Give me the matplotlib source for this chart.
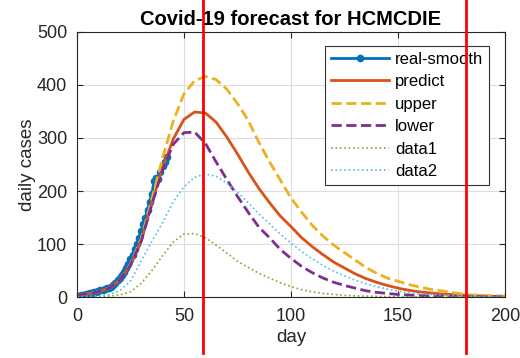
import numpy as np
import matplotlib
matplotlib.use("Agg")
import matplotlib.pyplot as plt

plt.rcParams['font.family'] = ['Liberation Sans', 'DejaVu Sans']

# observed (smoothed) daily cases, days 0..42
real_days = np.arange(0, 43)
real_smooth = [3, 3, 4, 4, 5, 6, 7, 8, 9, 10, 11, 13, 14, 15, 17, 18, 20, 23, 27, 32,
               37, 42, 48, 55, 63, 72, 80, 90, 100, 112, 125, 138, 150, 165, 180, 195,
               218, 225, 222, 236, 248, 255, 264]

# model curves, read every 5 days
days = np.arange(0, 201, 5)
predict = [4, 6, 10, 17, 32, 60, 107, 178, 243, 298, 335, 349, 347, 330, 302, 270, 236,
           205, 178, 153, 133, 112, 95, 80, 66, 55, 44, 35, 28, 22, 17, 13, 10, 8, 6, 5,
           4, 3, 2, 1.5, 1]
upper = [4, 6, 10, 17, 32, 62, 110, 185, 262, 332, 383, 408, 416, 410, 392, 365, 333,
         292, 255, 221, 187, 160, 135, 115, 98, 84, 70, 56, 45, 36, 30, 24, 19, 15, 12, 9,
         6, 4, 3, 2.5, 2]
lower = [4, 6, 10, 17, 32, 60, 105, 175, 240, 288, 310, 311, 290, 255, 222, 190, 160,
         132, 112, 90, 73, 58, 46, 36, 28, 22, 17, 12, 9, 7, 5, 4, 3, 2.5, 2, 1.5, 1, 1,
         0.5, 0.5, 0.5]
data1 = [0, 0.5, 1, 2, 4, 10, 26, 50, 78, 104, 119, 120, 112, 98, 83, 68, 56, 45, 36, 27,
         20, 14, 10, 7, 5, 3.5, 2.5, 2, 1.5, 1, 1, 0.5, 0.5, 0.5, 0, 0, 0, 0, 0, 0, 0]
data2 = [1, 1.5, 2.5, 5, 12, 30, 68, 105, 140, 180, 208, 226, 232, 228, 215, 198, 178,
         157, 138, 119, 102, 86, 72, 60, 49, 40, 32, 25, 20, 15, 11, 8, 6, 5, 4, 3, 2, 1.5,
         1, 0.5, 0.5]

# red marker lines drawn over the figure
marker_days = [59, 182]

fig = plt.figure(figsize=(5.2, 3.58), dpi=100)
ax = fig.add_axes([0.148, 0.170, 0.823, 0.741])

ax.plot(real_days, real_smooth, '.-', color='#0072BD', lw=2, ms=9, label='real-smooth')
ax.plot(days, predict, '-', color='#D95319', lw=2, label='predict')
ax.plot(days, upper, '--', color='#EDB120', lw=2, label='upper')
ax.plot(days, lower, '--', color='#7E2F8E', lw=2, label='lower')
ax.plot(days, data1, ':', color='#77AC30', lw=1.2, label='data1')
ax.plot(days, data2, ':', color='#4DBEEE', lw=1.2, label='data2')

ax.set_xlim(0, 200)
ax.set_ylim(0, 500)
ax.set_xticks([0, 50, 100, 150, 200])
ax.set_yticks([0, 100, 200, 300, 400, 500])
ax.grid(True, color='#dddddd', lw=0.8)
ax.set_axisbelow(True)
ax.tick_params(direction='in', top=True, right=True, labelsize=13, colors='#262626',
               length=4)
ax.tick_params(axis='x', pad=8)
ax.tick_params(axis='y', pad=7)
for s in ax.spines.values():
    s.set_color('#262626')
    s.set_linewidth(0.8)

ax.set_title('Covid-19 forecast for HCMCDIE', fontsize=14.5, fontweight='bold', pad=5)
ax.set_xlabel('day', fontsize=13.5, color='#262626', labelpad=3)
ax.set_ylabel('daily cases', fontsize=13.5, color='#262626', labelpad=1)

leg = ax.legend(loc='upper right', bbox_to_anchor=(0.963, 0.947), borderaxespad=0,
                fontsize=12, handlelength=3.5, labelspacing=0.45, fancybox=False,
                framealpha=1, edgecolor='#333333', borderpad=0.35, handletextpad=0.35)
leg.get_frame().set_linewidth(0.8)

for d in marker_days:
    ax.axvline(d, ymin=-0.211, ymax=1.125, color='red', lw=2, clip_on=False, zorder=10)

fig.savefig('out.png', dpi=100)
